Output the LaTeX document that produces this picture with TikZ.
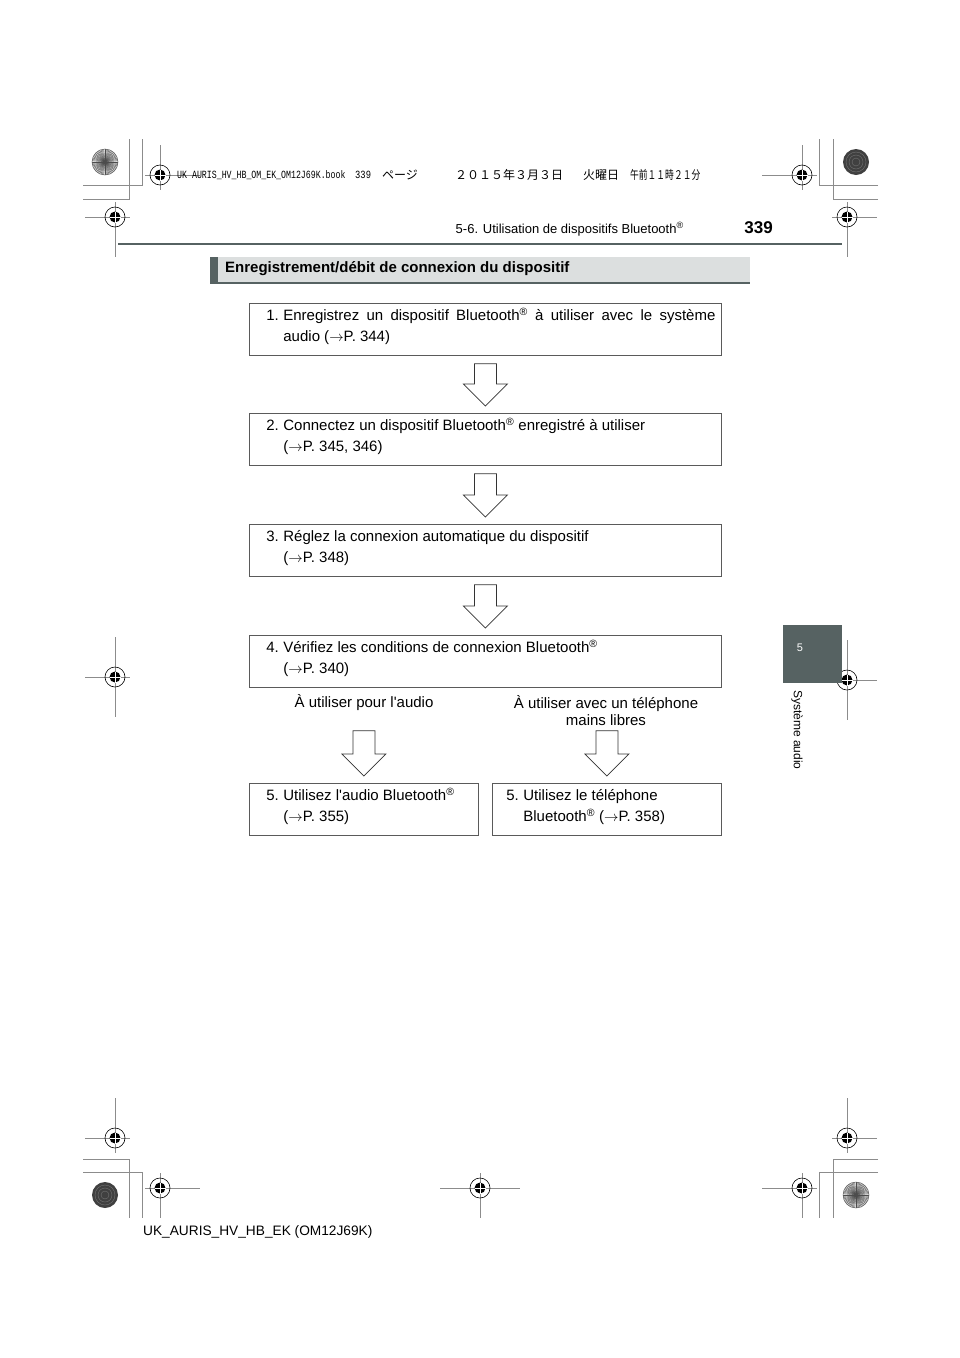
\documentclass[tikz,border=0pt]{standalone}
\usepackage{fontspec}
\setmainfont{Liberation Sans}
\setmonofont{Liberation Mono}
\newfontfamily\jpfont{Noto Sans CJK JP}
\usetikzlibrary{calc}

\definecolor{markgray}{HTML}{8C8C8C}
\definecolor{slate}{HTML}{566262}
\definecolor{barfill}{HTML}{DCDFDF}
\definecolor{boxline}{HTML}{5A5A5A}

\tikzset{
  stepbox/.style={draw=boxline, line width=0.8pt, anchor=north west, inner sep=0pt,
    font=\fontsize{15}{21}\selectfont},
  choice/.style={font=\fontsize{15}{17}\selectfont, align=center},
  slugtext/.style={anchor=west, inner sep=0pt, font=\jpfont\fontsize{12}{13}\selectfont},
  hollowarrow/.style={draw=black!80, line width=0.7pt, fill=white},
  cropline/.style={draw=markgray, line width=0.8pt},
}

% step text: left pad, number, text width, text
\newcommand\steptext[4]{\hspace*{#1}\makebox[17pt][l]{\rule{0pt}{17pt}#2}%
  \parbox[t]{#3}{#4\rule[-14pt]{0pt}{0pt}}\hspace*{6pt}}
\newcommand\pageto[1]{(\ensuremath{\rightarrow}P.~#1)}
\newcommand\btm{Bluetooth\textsuperscript{®}}

% hollow block arrow: [gap below source] source, target
\newcommand\flowarrow[3][8]{%
  \coordinate (tip) at ($(#3.north)+(0,-7)$);
  \coordinate (top) at ($(#3.north |- #2.south)+(0,#1)$);
  \draw[hollowarrow] ($(top)+(-11,0)$) -- ($(tip)+(-11,-22)$) -- ($(tip)+(-22,-22)$)
    -- (tip) -- ($(tip)+(22,-22)$) -- ($(tip)+(11,-22)$) -- ($(top)+(11,0)$) -- cycle;
}

\begin{document}
\begin{tikzpicture}[x=1pt, y=-1pt]
  \useasboundingbox (0,0) rectangle (960,1358);
  \fill[white] (0,0) rectangle (960,1358);

  % Print marks: crop corners
  \draw[cropline] (83,199) -- (129,199) -- (129,139);
  \draw[cropline] (83,185) -- (142,185) -- (142,139);
  \draw[cropline] (878,185) -- (819,185) -- (819,139);
  \draw[cropline] (878,199) -- (833,199) -- (833,139);
  \draw[cropline] (83,1159) -- (129,1159) -- (129,1218);
  \draw[cropline] (83,1172) -- (142,1172) -- (142,1218);
  \draw[cropline] (878,1159) -- (833,1159) -- (833,1218);
  \draw[cropline] (878,1172) -- (819,1172) -- (819,1218);

  % Print marks: targets
  \foreach \x/\y/\l/\r/\u/\d in {160/175/15/40/30/15, 115/217/30/15/15/40,
      802/175/40/15/30/15, 847/217/15/30/15/40, 115/677/30/15/40/40,
      847/680/15/30/40/40, 115/1138/30/15/40/15, 160/1188/15/40/15/30,
      480/1188/40/40/15/30, 802/1188/40/15/15/30, 847/1138/15/30/40/15} {
    \draw[cropline] (\x-\l,\y) -- (\x+\r,\y);
    \draw[cropline] (\x,\y-\u) -- (\x,\y+\d);
    \draw[black, line width=0.6pt] (\x,\y) circle (10);
    \fill[black] (\x,\y) circle (5.5);
    \draw[white, line width=0.5pt] (\x-5.5,\y) -- (\x+5.5,\y) (\x,\y-5.5) -- (\x,\y+5.5);
  }

  % Print marks: star discs and dark discs
  \foreach \cx/\cy in {105/162, 856/1195} {
    \fill[gray!25] (\cx,\cy) circle (13);
    \foreach \a in {0,6,...,354}
      \draw[black!70, line width=0.35pt] (\cx,\cy) -- ++(\a:13);
    \draw[black!60, line width=0.5pt] (\cx,\cy) circle (13);
  }
  \foreach \cx/\cy in {856/162, 105/1195} {
    \fill[black!75] (\cx,\cy) circle (13);
    \foreach \rr in {4,7,10}
      \draw[black!55, line width=0.4pt] (\cx,\cy) circle (\rr);
  }

  % Slug line
  \node[anchor=west, inner sep=0pt, font=\ttfamily\fontsize{11}{13}\selectfont] (slug) at (177,175)
    {\scalebox{0.75}[1]{UK AURIS\_HV\_HB\_OM\_EK\_OM12J69K.book}};
  \node[anchor=west, inner sep=0pt, font=\ttfamily\fontsize{11}{13}\selectfont] (slugpage) at (355,175)
    {\scalebox{0.8}[1]{339}};
  \node[slugtext] (slugkana) at (382,175) {ページ};
  \node[slugtext] (slugdate) at (455,175) {２０１５年３月３日};
  \node[slugtext] (slugday) at (583,175) {火曜日};
  \node[slugtext] (slugtime) at (630,175) {\scalebox{0.73}[1]{午前１１時２１分}};

  % Running head
  \draw[slate, line width=2.5pt] (118,244) -- (842,244);
  \node[anchor=east, inner sep=0pt, font=\fontsize{13}{15}\selectfont] (head) at (684,229)
    {5-6. Utilisation de dispositifs \btm};
  \node[anchor=east, inner sep=0pt, font=\bfseries\fontsize{17}{19}\selectfont] (pageno) at (773,228) {339};

  % Section tab
  \fill[slate] (783,625) rectangle (842,683);
  \node[white, font=\fontsize{11}{13}\selectfont] (tabno) at (800,648) {5};
  \node[rotate=-90, anchor=west, inner sep=0pt, font=\fontsize{12}{14}\selectfont] (tabtitle) at (797,690)
    {Système audio};

  % Section title bar
  \fill[barfill] (210,257) rectangle (750,283);
  \fill[slate] (210,257) rectangle (218,283);
  \draw[slate, line width=1.2pt] (210,283) -- (750,283);
  \node[anchor=west, inner sep=0pt, font=\bfseries\fontsize{15}{17}\selectfont] (title) at (225,269)
    {Enregistrement/débit de connexion du dispositif};

  % Flow steps
  \node[stepbox] (s1) at (249,303)
    {\steptext{17pt}{1.}{432pt}{Enregistrez un dispositif \btm{} à utiliser avec le système\linebreak
     audio \pageto{344}}};
  \node[stepbox] (s2) at (249,413)
    {\steptext{17pt}{2.}{432pt}{Connectez un dispositif \btm{} enregistré à utiliser\\ \pageto{345, 346}}};
  \node[stepbox] (s3) at (249,524)
    {\steptext{17pt}{3.}{432pt}{Réglez la connexion automatique du dispositif\\ \pageto{348}}};
  \node[stepbox] (s4) at (249,635)
    {\steptext{17pt}{4.}{432pt}{Vérifiez les conditions de connexion \btm\\ \pageto{340}}};

  \node[choice] (audio) at (364,703) {À utiliser pour l\textquotesingle audio};
  \node[choice] (phone) at (606,711) {À utiliser avec un téléphone\\mains libres};

  \node[stepbox] (s5a) at (249,783)
    {\steptext{17pt}{5.}{189pt}{Utilisez l\textquotesingle audio \btm\\ \pageto{355}}};
  \node[stepbox] (s5b) at (492,783)
    {\steptext{14pt}{5.}{192pt}{Utilisez le téléphone\\ \btm{} \pageto{358}}};

  % Arrows between steps
  \flowarrow{s1}{s2}
  \flowarrow{s2}{s3}
  \flowarrow{s3}{s4}
  \flowarrow[43]{s4}{s5a}
  \flowarrow[43]{s4}{s5b}

  % Footer
  \node[anchor=west, inner sep=0pt, font=\fontsize{13.7}{16}\selectfont] (footer) at (143,1232)
    {UK\_AURIS\_HV\_HB\_EK (OM12J69K)};
\end{tikzpicture}
\end{document}
